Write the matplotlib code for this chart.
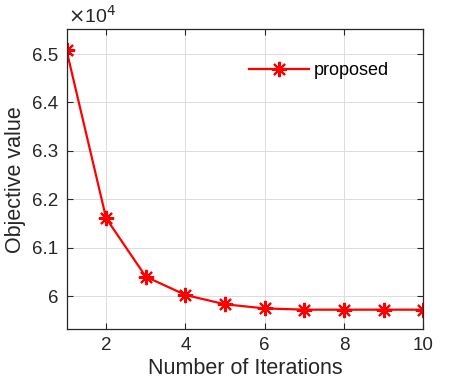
import matplotlib
matplotlib.use("Agg")
import matplotlib.pyplot as plt

# Objective value per iteration (x 1e4)
iterations = [1, 2, 3, 4, 5, 6, 7, 8, 9, 10]
objective = [6.508, 6.161, 6.0405, 6.0027, 5.9835, 5.975, 5.9724, 5.9724, 5.9724, 5.9724]
x_ticks = [2, 4, 6, 8, 10]
y_ticks = [6.0, 6.1, 6.2, 6.3, 6.4, 6.5]
y_tick_labels = ["6", "6.1", "6.2", "6.3", "6.4", "6.5"]

plt.rcParams["font.family"] = ["Liberation Sans", "DejaVu Sans"]

fig = plt.figure(figsize=(4.69, 3.91), dpi=100)
ax = fig.add_axes([66.5 / 469, 1 - 329 / 391, (423.3 - 66.5) / 469, (329 - 29.3) / 391])

ax.plot(iterations, objective, color="red", linewidth=1.6, marker=(8, 2, 0),
        markersize=11, markeredgewidth=1.5, label="proposed")

ax.set_xlim(1, 10)
ax.set_ylim(5.9325, 6.551)
ax.set_xticks(x_ticks)
ax.set_yticks(y_ticks)
ax.set_yticklabels(y_tick_labels)
ax.tick_params(direction="in", top=True, right=True, length=4, width=0.8,
               labelsize=13.5, colors="#262626", pad=6)
ax.grid(True, color="#dcdcdc", linewidth=0.7)
ax.set_axisbelow(True)
for s in ax.spines.values():
    s.set_color("#262626")
    s.set_linewidth(0.9)

ax.set_xlabel("Number of Iterations", fontsize=15.5, color="#262626", labelpad=3)
ax.set_ylabel("Objective value", fontsize=15.5, color="#262626", labelpad=4)

ax.text(0.005, 1.01, r"$\times$10$^4$", transform=ax.transAxes, fontsize=14,
        color="#262626", va="bottom", ha="left")

leg = ax.legend(loc="center right", bbox_to_anchor=(0.95, 0.862), frameon=False,
                fontsize=13, handlelength=3.3, handletextpad=0.3)

fig.savefig("out.png", dpi=100)
